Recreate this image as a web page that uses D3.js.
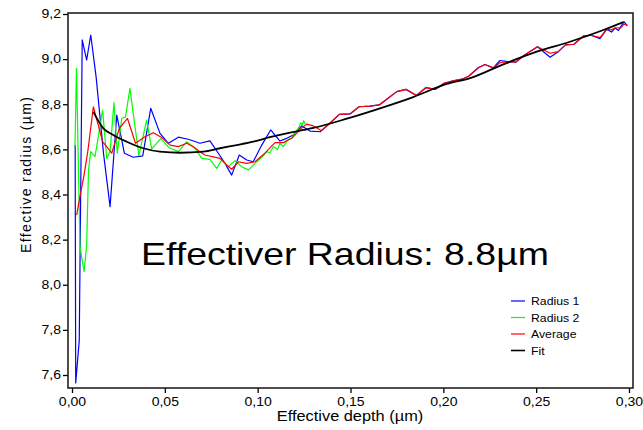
<!DOCTYPE html>
<html>
<head>
<meta charset="utf-8">
<script src="https://cdn.jsdelivr.net/npm/d3@7"></script>
<style>
  body { margin: 0; background: #fff; }
  text { font-family: "Liberation Sans", Arial, sans-serif; fill: #000; }
</style>
</head>
<body>
<svg width="643" height="430"></svg>
<script>
// data: [depth (µm), radius (µm)]
const radius1 = [
  [0.0017, 8.619], [0.0020, 7.565], [0.0039, 7.752], [0.0055, 9.085], [0.0079, 8.996],
  [0.0101, 9.107], [0.0130, 8.920], [0.0170, 8.580], [0.0205, 8.346], [0.0241, 8.752],
  [0.0282, 8.583], [0.0330, 8.565], [0.0381, 8.571], [0.0424, 8.782], [0.0474, 8.671],
  [0.0519, 8.627], [0.0573, 8.654], [0.0626, 8.645], [0.0689, 8.627], [0.0743, 8.638],
  [0.0779, 8.594], [0.0824, 8.538], [0.0860, 8.486], [0.0901, 8.575], [0.0941, 8.553],
  [0.0976, 8.545], [0.1022, 8.619], [0.1070, 8.686], [0.1120, 8.637], [0.1156, 8.649],
  [0.1192, 8.664], [0.1237, 8.704], [0.1282, 8.681], [0.1336, 8.678], [0.1390, 8.717],
  [0.1440, 8.755], [0.1497, 8.757], [0.1546, 8.789], [0.1605, 8.792], [0.1655, 8.797],
  [0.1704, 8.828], [0.1749, 8.856], [0.1799, 8.866], [0.1855, 8.839], [0.1907, 8.874],
  [0.1958, 8.866], [0.2004, 8.893], [0.2052, 8.904], [0.2101, 8.911], [0.2138, 8.925],
  [0.2188, 8.962], [0.2224, 8.976], [0.2269, 8.961], [0.2305, 8.994], [0.2348, 8.989],
  [0.2391, 8.987], [0.2434, 9.016], [0.2507, 9.055], [0.2575, 9.008], [0.2619, 9.033],
  [0.2658, 9.063], [0.2704, 9.066], [0.2754, 9.102], [0.2795, 9.106], [0.2844, 9.091],
  [0.2879, 9.132], [0.2906, 9.120], [0.2925, 9.138], [0.2943, 9.127], [0.2957, 9.145],
  [0.2973, 9.166], [0.2991, 9.147]
];

const radius2 = [
  [0.0016, 8.612], [0.0024, 8.959], [0.0043, 8.169], [0.0065, 8.058], [0.0079, 8.176],
  [0.0089, 8.509], [0.0101, 8.590], [0.0124, 8.568], [0.0165, 8.774], [0.0187, 8.560],
  [0.0205, 8.590], [0.0226, 8.807], [0.0244, 8.583], [0.0268, 8.738], [0.0288, 8.743],
  [0.0312, 8.871], [0.0360, 8.573], [0.0402, 8.730], [0.0429, 8.602], [0.0479, 8.648],
  [0.0522, 8.608], [0.0573, 8.590], [0.0618, 8.634], [0.0662, 8.605], [0.0699, 8.560],
  [0.0743, 8.556], [0.0779, 8.516], [0.0806, 8.553], [0.0842, 8.523], [0.0878, 8.550],
  [0.0914, 8.523], [0.0950, 8.509], [0.0986, 8.538], [0.1022, 8.565], [0.1049, 8.590],
  [0.1066, 8.585], [0.1084, 8.612], [0.1108, 8.600], [0.1120, 8.627], [0.1138, 8.612],
  [0.1165, 8.645], [0.1183, 8.649], [0.1201, 8.671], [0.1223, 8.700], [0.1233, 8.718],
  [0.1240, 8.708], [0.1248, 8.727], [0.1255, 8.712]
];

const average = [
  [0.0025, 8.309], [0.0043, 8.393], [0.0065, 8.486], [0.0086, 8.597], [0.0115, 8.789],
  [0.0165, 8.634], [0.0214, 8.583], [0.0255, 8.693], [0.0299, 8.737], [0.0342, 8.627],
  [0.0393, 8.656], [0.0438, 8.674], [0.0483, 8.653], [0.0528, 8.619], [0.0573, 8.612],
  [0.0618, 8.627], [0.0653, 8.612], [0.0689, 8.590], [0.0716, 8.575], [0.0761, 8.567],
  [0.0797, 8.560], [0.0833, 8.531], [0.0860, 8.512], [0.0896, 8.545], [0.0941, 8.538],
  [0.0986, 8.545], [0.1039, 8.583], [0.1093, 8.630], [0.1138, 8.630], [0.1183, 8.649],
  [0.1210, 8.671], [0.1237, 8.695], [0.1264, 8.712], [0.1300, 8.704], [0.1345, 8.683],
  [0.1390, 8.717], [0.1440, 8.755], [0.1497, 8.757], [0.1546, 8.789], [0.1605, 8.792],
  [0.1655, 8.797], [0.1704, 8.828], [0.1749, 8.856], [0.1799, 8.866], [0.1855, 8.839],
  [0.1907, 8.874], [0.1958, 8.866], [0.2004, 8.893], [0.2052, 8.904], [0.2101, 8.911],
  [0.2138, 8.925], [0.2188, 8.962], [0.2224, 8.976], [0.2269, 8.961], [0.2305, 8.984],
  [0.2348, 8.989], [0.2391, 8.987], [0.2434, 9.016], [0.2507, 9.055], [0.2575, 9.026],
  [0.2619, 9.033], [0.2658, 9.063], [0.2704, 9.066], [0.2754, 9.102], [0.2795, 9.106],
  [0.2844, 9.095], [0.2879, 9.132], [0.2906, 9.130], [0.2925, 9.138], [0.2957, 9.140],
  [0.2973, 9.155], [0.2991, 9.150]
];

const fit = [
  [0.0115, 8.766], [0.0169, 8.693], [0.0222, 8.664], [0.0295, 8.634], [0.0384, 8.605],
  [0.0474, 8.590], [0.0582, 8.585], [0.0707, 8.590], [0.0797, 8.605], [0.0887, 8.619],
  [0.0976, 8.634], [0.1066, 8.654], [0.1156, 8.671], [0.1246, 8.686], [0.1300, 8.695],
  [0.1480, 8.736], [0.1659, 8.782], [0.1838, 8.832], [0.2018, 8.890], [0.2144, 8.916],
  [0.2323, 8.977], [0.2503, 9.033], [0.2682, 9.077], [0.2862, 9.129], [0.2969, 9.164]
];

const xTicks = [0, 0.05, 0.10, 0.15, 0.20, 0.25, 0.30];
const yTicks = [7.6, 7.8, 8.0, 8.2, 8.4, 8.6, 8.8, 9.0, 9.2];
const seriesNames = ['Radius 1', 'Radius 2', 'Average', 'Fit'];
const seriesColors = ['#0000ff', '#00ff00', '#ff0000', '#000000'];
const annotation = 'Effectiver Radius: 8.8µm';

const svg = d3.select('svg');
const frame = { left: 68, right: 633, top: 13, bottom: 388 };
const stretch = 1.17; // the source picture is a bit wider than its fonts

const x = d3.scaleLinear().domain([0, 0.3]).range([72, 629]);
const y = d3.scaleLinear().domain([7.6, 9.2]).range([375, 14]);
const comma = d => d3.format(',.2f')(d).replace('.', ',');

// axes (ticks only, frame drawn separately)
const xAxis = svg.append('g')
  .attr('transform', `translate(0,${frame.bottom})`)
  .call(d3.axisBottom(x).tickValues(xTicks).tickSize(5).tickSizeOuter(0).tickFormat(comma));
const yAxis = svg.append('g')
  .attr('transform', `translate(${frame.left},0)`)
  .call(d3.axisLeft(y).tickValues(yTicks).tickSize(5).tickSizeOuter(0)
    .tickFormat(d => d3.format('.1f')(d).replace('.', ',')));
[xAxis, yAxis].forEach(g => {
  g.select('.domain').remove();
  g.selectAll('.tick line').attr('stroke', '#000').attr('stroke-width', 1.3);
  g.selectAll('.tick text').attr('font-size', 12).attr('font-family', '"Liberation Sans", Arial, sans-serif');
});
// stretch tick labels horizontally around their anchor
xAxis.selectAll('.tick text').attr('y', 9).attr('transform', `scale(${stretch},1)`);
yAxis.selectAll('.tick text').attr('x', 0)
  .attr('transform', `translate(-7,0) scale(${stretch},1)`);

svg.append('rect')
  .attr('x', frame.left).attr('y', frame.top)
  .attr('width', frame.right - frame.left).attr('height', frame.bottom - frame.top)
  .attr('fill', 'none').attr('stroke', '#222').attr('stroke-width', 1.6);

const line = d3.line().x(d => x(d[0])).y(d => y(d[1]));
const plot = svg.append('g');
[radius1, radius2, average].forEach((data, i) => {
  plot.append('path').datum(data)
    .attr('d', line)
    .attr('fill', 'none')
    .attr('stroke', seriesColors[i])
    .attr('stroke-width', 1.2)
    .attr('stroke-linejoin', 'round');
});
plot.append('path').datum(fit)
  .attr('d', line.curve(d3.curveMonotoneX))
  .attr('fill', 'none')
  .attr('stroke', '#000')
  .attr('stroke-width', 1.8);

// axis titles
svg.append('text')
  .attr('transform', `translate(350,421) scale(${stretch},1)`)
  .attr('text-anchor', 'middle').attr('font-size', 14)
  .text('Effective depth (µm)');
svg.append('text')
  .attr('transform', `translate(31,175) rotate(-90)`)
  .attr('text-anchor', 'middle').attr('font-size', 14)
  .attr('textLength', 156)
  .text('Effective radius (µm)');

// big annotation
svg.append('text')
  .attr('transform', `translate(345,265) scale(${stretch},1)`)
  .attr('text-anchor', 'middle').attr('font-size', 32)
  .text(annotation);

// legend
const legend = svg.append('g').attr('transform', 'translate(511,301)');
seriesNames.forEach((name, i) => {
  const row = legend.append('g').attr('transform', `translate(0,${i * 16.5})`);
  row.append('line').attr('x1', 0).attr('x2', 14).attr('y1', 0).attr('y2', 0)
    .attr('stroke', seriesColors[i]).attr('stroke-width', i === 3 ? 1.6 : 1.2);
  row.append('text').attr('transform', `translate(20,4) scale(${stretch},1)`)
    .attr('font-size', 10.5).text(name);
});
</script>
</body>
</html>
